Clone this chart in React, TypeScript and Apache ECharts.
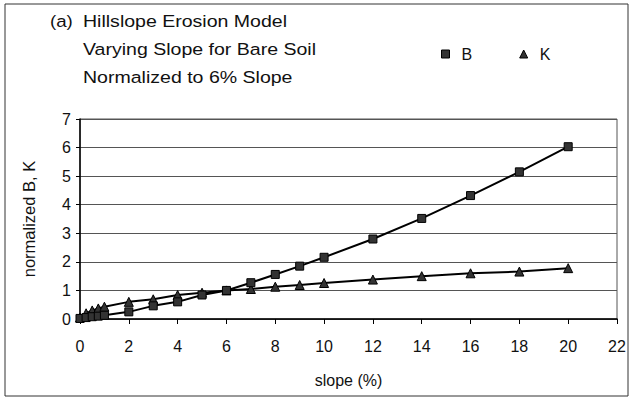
import React, { useEffect, useRef } from "react";
import * as echarts from "echarts";

const slopes = [0, 0.25, 0.5, 0.75, 1, 2, 3, 4, 5, 6, 7, 8, 9, 10, 12, 14, 16, 18, 20];
const valuesB = [0.02, 0.05, 0.08, 0.1, 0.13, 0.25, 0.46, 0.6, 0.84, 1.0, 1.27, 1.56, 1.85, 2.16, 2.8, 3.52, 4.32, 5.15, 6.03];
const valuesK = [0.05, 0.2, 0.3, 0.37, 0.43, 0.6, 0.69, 0.84, 0.92, 1.0, 1.05, 1.13, 1.19, 1.26, 1.38, 1.5, 1.6, 1.66, 1.78];
const titleLines = ["Hillslope Erosion Model", "Varying Slope for Bare Soil", "Normalized to 6% Slope"];

const FONT = "'Liberation Sans', Arial, sans-serif";

export default function App() {
  const ref = useRef<HTMLDivElement>(null);
  useEffect(() => {
    const chart = echarts.init(ref.current!, null, { renderer: "svg" });
    const pairs = (ys: number[]) => slopes.map((x, i) => [x, ys[i]]);
    chart.setOption({
      animation: false,
      backgroundColor: "#fff",
      textStyle: { fontFamily: FONT, color: "#111" },
      grid: { left: 80, top: 119, right: 15, bottom: 81, show: true, borderColor: "#555", borderWidth: 1 },
      legend: {
        left: 436,
        top: 41,
        itemWidth: 8,
        itemHeight: 8,
        itemGap: 47,
        textStyle: { fontSize: 16, color: "#111", fontFamily: FONT, padding: [0, 0, 0, 7] },
        data: [
          { name: "B", icon: "rect", itemStyle: { color: "#333", borderColor: "#000", borderWidth: 1 } },
          { name: "K", icon: "triangle", itemStyle: { color: "#333", borderColor: "#000", borderWidth: 1 } },
        ],
      },
      xAxis: {
        type: "value",
        min: 0,
        max: 22,
        interval: 2,
        name: "slope (%)",
        nameLocation: "middle",
        nameGap: 53,
        nameTextStyle: { fontSize: 16, color: "#111", fontFamily: FONT },
        axisLine: { lineStyle: { color: "#000", width: 1.5 } },
        axisTick: { show: true, length: 5, lineStyle: { color: "#000" } },
        axisLabel: { fontSize: 16, color: "#111", margin: 19, fontFamily: FONT },
        splitLine: { show: false },
      },
      yAxis: {
        type: "value",
        min: 0,
        max: 7,
        interval: 1,
        name: "normalized B, K",
        nameLocation: "middle",
        nameGap: 43,
        nameTextStyle: { fontSize: 16.5, color: "#111", fontFamily: FONT },
        axisLine: { show: true, lineStyle: { color: "#000", width: 1.5 } },
        axisTick: { show: true, length: 4, lineStyle: { color: "#000" } },
        axisLabel: { fontSize: 16, color: "#111", margin: 9, fontFamily: FONT },
        splitLine: { show: true, lineStyle: { color: "#555", width: 1 } },
      },
      series: [
        {
          name: "B",
          type: "line",
          data: pairs(valuesB),
          symbol: "rect",
          symbolSize: 8,
          lineStyle: { color: "#000", width: 2 },
          itemStyle: { color: "#333", borderColor: "#000", borderWidth: 1 },
          z: 3,
        },
        {
          name: "K",
          type: "line",
          data: pairs(valuesK),
          symbol: "triangle",
          symbolSize: 9,
          lineStyle: { color: "#000", width: 2 },
          itemStyle: { color: "#333", borderColor: "#000", borderWidth: 1 },
          z: 2,
        },
      ],
      graphic: [
        {
          type: "rect",
          shape: { x: 5, y: 4, width: 623, height: 392 },
          style: { fill: "none", stroke: "#333", lineWidth: 1 },
          silent: true,
        },
        {
          type: "text",
          x: 50,
          y: 21,
          scaleX: 1.1,
          style: { text: "(a)", font: `17px ${FONT}`, fill: "#111", textVerticalAlign: "middle" },
        },
        ...titleLines.map((t, i) => ({
          type: "text",
          x: 83,
          y: 21 + i * 28,
          scaleX: 1.15,
          style: { text: t, font: `17px ${FONT}`, fill: "#111", textVerticalAlign: "middle" },
        })),
      ],
    });
    return () => chart.dispose();
  }, []);
  return <div ref={ref} style={{ width: 632, height: 400, position: "absolute", left: 0, top: 0 }} />;
}
